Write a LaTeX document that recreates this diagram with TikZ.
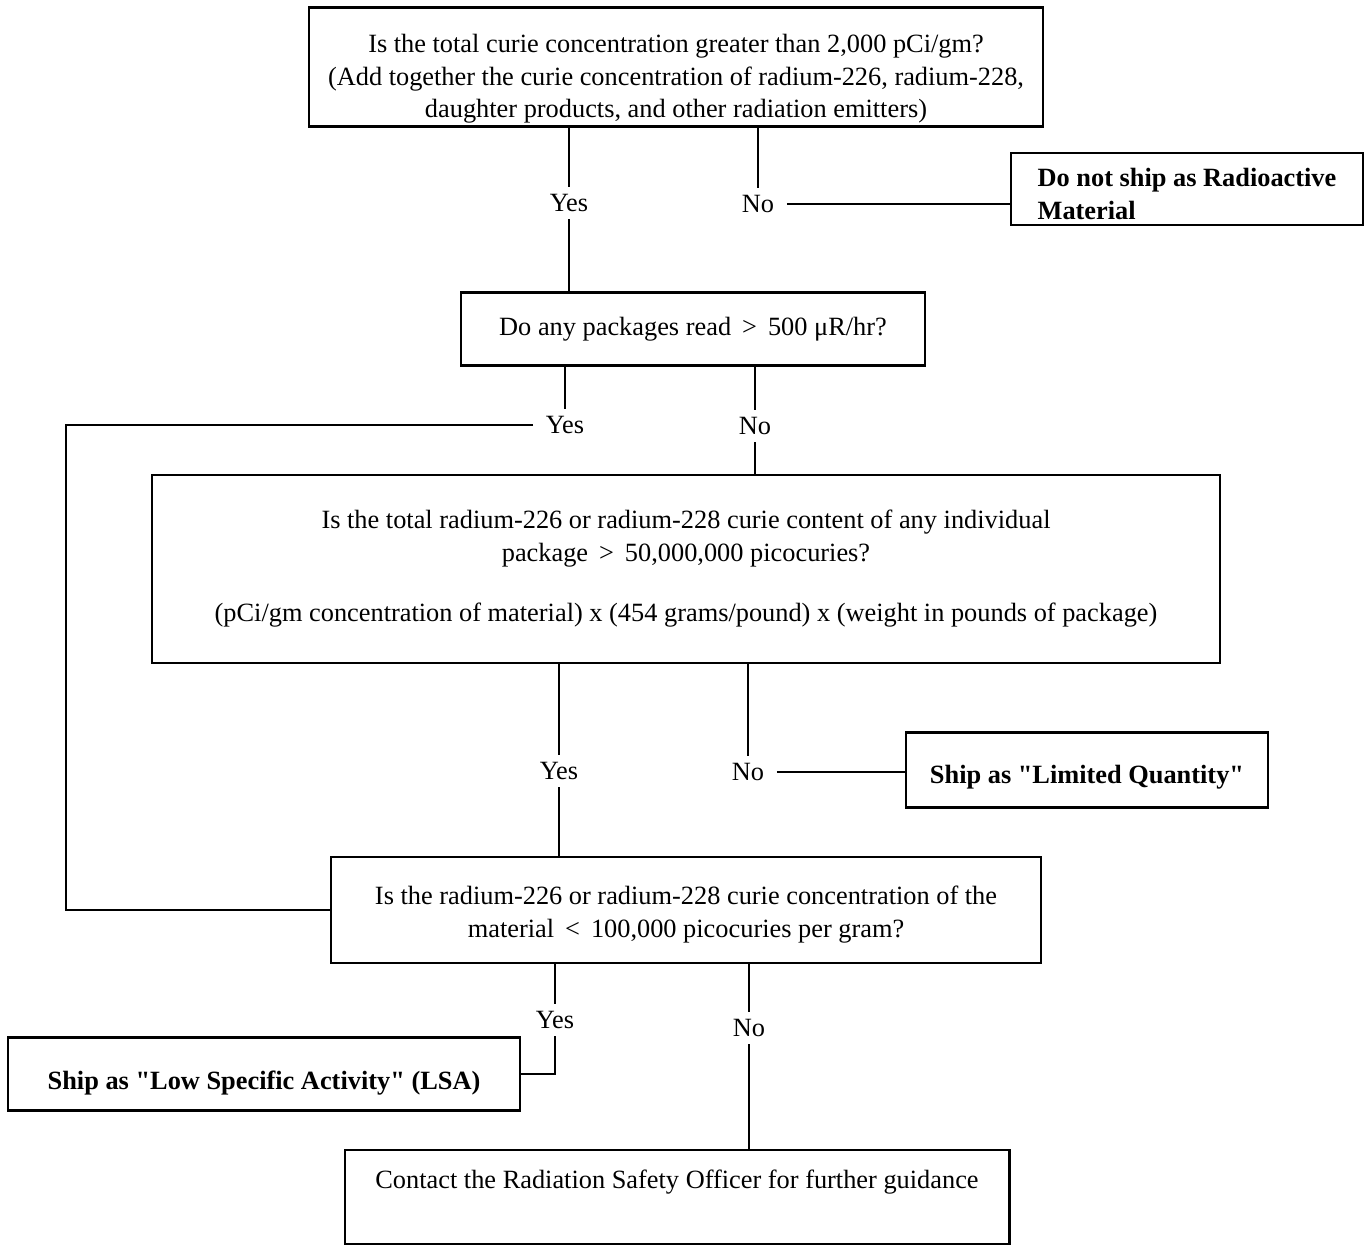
\documentclass[tikz,border=0pt]{standalone}
\usepackage{fontspec}
\setmainfont{Liberation Serif}
\usetikzlibrary{positioning}

\begin{document}
\begin{tikzpicture}[x=0.02cm, y=-0.02cm]
		\tikzstyle{question} = [rectangle, draw=black, line width=1.2pt, align=center, 
		font=\fontsize{15}{18.5}\selectfont]
		\tikzstyle{result} = [rectangle, draw=black, line width=1.2pt, align=left, 
		font=\fontsize{15}{18.5}\selectfont\bfseries]
		\tikzstyle{answer} = [inner xsep=7pt, inner ysep=4pt, font=\fontsize{15}{18.5}\selectfont]
		\tikzstyle{line} = [line width=1.2pt]
		\useasboundingbox (0,0) rectangle (1371,1246);
		\node (totalCurie) [question, inner ysep=0pt, minimum width=14.68cm, minimum height=2.38cm] at (676,67) {\rule{0pt}{24pt}Is the total curie concentration greater than 2,000 pCi/gm?\\(Add together the curie concentration of radium-226, radium-228,\\daughter products, and other radiation emitters)};
		\node (doNotShip) [result, minimum width=7.04cm, minimum height=1.44cm] at (1187,189) {\rule{0pt}{16pt}Do not ship as Radioactive\\Material};
		\node (packageRead) [question, minimum width=9.28cm, minimum height=1.46cm] at (693,329) {Do any packages read \,>\, 500 μR/hr?};
		\node (individualContent) [question, minimum width=21.36cm, minimum height=3.76cm] at (686,569) {Is the total radium-226 or radium-228 curie content of any individual\\package \,>\, 50,000,000 picocuries?\\[16pt](pCi/gm concentration of material) x (454 grams/pound) x (weight in pounds of package)};
		\node (limitedQuantity) [result, minimum width=7.24cm, minimum height=1.5cm] at (1087,770) {\rule{0pt}{19pt}Ship as \textquotedbl Limited Quantity\textquotedbl};
		\node (concentration) [question, minimum width=14.2cm, minimum height=2.12cm] at (686,910) {\rule{0pt}{16pt}Is the radium-226 or radium-228 curie concentration of the\\material \,<\, 100,000 picocuries per gram?};
		\node (lowSpecific) [result, minimum width=10.24cm, minimum height=1.46cm] at (264,1074) {\rule{0pt}{21pt}Ship as \textquotedbl Low Specific Activity\textquotedbl{} (LSA)};
		\node (contactOfficer) [question, minimum width=13.3cm, minimum height=1.88cm, text depth=0.72cm] at (677,1197) {Contact the Radiation Safety Officer for further guidance};
		\node (yes1) [answer] at (569,203) {Yes};
		\node (no1) [answer] at (758,204) {No};
		\node (yes2) [answer] at (565,425) {Yes};
		\node (no2) [answer] at (755,426) {No};
		\node (yes3) [answer] at (559,771) {Yes};
		\node (no3) [answer] at (748,772) {No};
		\node (yes4) [answer] at (555,1020) {Yes};
		\node (no4) [answer] at (749,1028) {No};
		\coordinate (bend) at (66,0);
		\draw [line] (totalCurie.south -| yes1) -- (yes1);
		\draw [line] (yes1) -- (packageRead.north -| yes1);
		\draw [line] (totalCurie.south -| no1) -- (no1);
		\draw [line] (no1) -- (no1 -| doNotShip.west);
		\draw [line] (packageRead.south -| yes2) -- (yes2);
		\draw [line] (yes2) -- (yes2 -| bend) |- (concentration.west);
		\draw [line] (packageRead.south -| no2) -- (no2);
		\draw [line] (no2) -- (individualContent.north -| no2);
		\draw [line] (individualContent.south -| yes3) -- (yes3);
		\draw [line] (yes3) -- (concentration.north -| yes3);
		\draw [line] (individualContent.south -| no3) -- (no3);
		\draw [line] (no3) -- (no3 -| limitedQuantity.west);
		\draw [line] (concentration.south -| yes4) -- (yes4);
		\draw [line] (yes4) |- (lowSpecific.east);
		\draw [line] (concentration.south -| no4) -- (no4);
		\draw [line] (no4) -- (contactOfficer.north -| no4);
		\end{tikzpicture}
\end{document}
